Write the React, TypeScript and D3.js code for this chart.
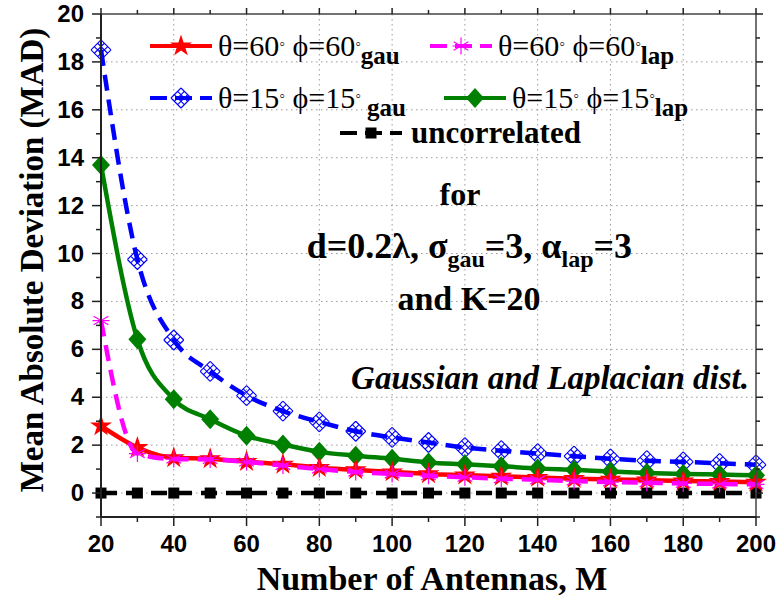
import React from "react";
import * as d3 from "d3";

const M = [20, 30, 40, 50, 60, 70, 80, 90, 100, 110, 120, 130, 140, 150, 160, 170, 180, 190, 200];
const gau60 = [2.8, 1.9, 1.47, 1.43, 1.31, 1.2, 1.06, 0.97, 0.88, 0.8, 0.75, 0.7, 0.65, 0.6, 0.57, 0.54, 0.5, 0.48, 0.45];
const lap60 = [7.2, 1.65, 1.42, 1.4, 1.3, 1.15, 1.0, 0.88, 0.8, 0.72, 0.66, 0.6, 0.55, 0.5, 0.46, 0.43, 0.4, 0.38, 0.36];
const gau15 = [18.5, 9.75, 6.39, 5.08, 4.07, 3.42, 2.97, 2.58, 2.32, 2.11, 1.9, 1.77, 1.65, 1.54, 1.43, 1.35, 1.3, 1.24, 1.18];
const lap15 = [13.7, 6.42, 3.92, 3.08, 2.39, 2.03, 1.72, 1.56, 1.43, 1.28, 1.2, 1.12, 1.03, 0.97, 0.9, 0.84, 0.8, 0.77, 0.74];
const uncorr = [0, 0, 0, 0, 0, 0, 0, 0, 0, 0, 0, 0, 0, 0, 0, 0, 0, 0, 0];

const xTicksMajor = [20, 40, 60, 80, 100, 120, 140, 160, 180, 200];
const xTicksMinor = [30, 50, 70, 90, 110, 130, 150, 170, 190];
const yTicksMajor = [0, 2, 4, 6, 8, 10, 12, 14, 16, 18, 20];
const yTicksMinor = [-1, 1, 3, 5, 7, 9, 11, 13, 15, 17, 19];

const W = 779, H = 602;
const L = 101, R = 756, T = 14, B = 517;

const x = d3.scaleLinear().domain([20, 200]).range([L, R]);
const y = d3.scaleLinear().domain([-1, 20]).range([B, T]);

type Mk = "star" | "ast" | "lattice" | "diamond" | "square";

function marker(kind: Mk, cx: number, cy: number, color: string, key: string | number) {
  if (kind === "star") {
    const p = d3.symbol().type(d3.symbolStar).size(150)();
    return <path key={key} d={p || ""} transform={`translate(${cx},${cy})`} fill={color} />;
  }
  if (kind === "ast") {
    const r = 8.5;
    const segs: string[] = [];
    [90, 30, -30].forEach((a) => {
      const rad = (a * Math.PI) / 180;
      segs.push(`M${cx - r * Math.cos(rad)},${cy - r * Math.sin(rad)}L${cx + r * Math.cos(rad)},${cy + r * Math.sin(rad)}`);
    });
    segs.push(`M${cx - r},${cy}L${cx + r},${cy}`);
    return <path key={key} d={segs.join("")} stroke={color} strokeWidth={1.2} fill="none" />;
  }
  if (kind === "lattice") {
    const hw = 10, hh = 10;
    const top = [cx, cy - hh], right = [cx + hw, cy], bot = [cx, cy + hh], left = [cx - hw, cy];
    const lerp = (a: number[], b: number[], t: number) => [a[0] + (b[0] - a[0]) * t, a[1] + (b[1] - a[1]) * t];
    let d = "";
    [0, 1 / 3, 2 / 3, 1].forEach((t) => {
      const a = lerp(left, top, t), b = lerp(bot, right, t);
      d += `M${a[0]},${a[1]}L${b[0]},${b[1]}`;
      const c = lerp(left, bot, t), e = lerp(top, right, t);
      d += `M${c[0]},${c[1]}L${e[0]},${e[1]}`;
    });
    return <path key={key} d={d} stroke={color} strokeWidth={1.1} fill="none" />;
  }
  if (kind === "diamond") {
    const hw = 9, hh = 10;
    return <path key={key} d={`M${cx},${cy - hh}L${cx + hw},${cy}L${cx},${cy + hh}L${cx - hw},${cy}Z`} fill={color} />;
  }
  const s = 11;
  return <rect key={key} x={cx - s / 2} y={cy - s / 2} width={s} height={s} fill={color} />;
}

const series: { vals: number[]; color: string; dash?: string; mk: Mk }[] = [
  { vals: uncorr, color: "#000000", dash: "16,9", mk: "square" },
  { vals: gau15, color: "#0000ff", dash: "16,9", mk: "lattice" },
  { vals: lap15, color: "#008000", mk: "diamond" },
  { vals: gau60, color: "#ff0000", mk: "star" },
  { vals: lap60, color: "#ff00ff", dash: "16,9", mk: "ast" },
];

const line = d3
  .line<[number, number]>()
  .x((d) => x(d[0]))
  .y((d) => y(d[1]))
  .curve(d3.curveMonotoneX);

const serif = "Liberation Serif";
const sans = "Liberation Sans";

function LegendItem({ lx, ly, color, dash, mk, th, sub }: { lx: number; ly: number; color: string; dash?: string; mk: Mk; th: string; sub: string }) {
  return (
    <g>
      <line x1={lx} x2={lx + 62} y1={ly} y2={ly} stroke={color} strokeWidth={4} strokeDasharray={dash ? "17,8" : undefined} />
      {marker(mk, lx + 31, ly, color, "m")}
      <text x={lx + 68} y={ly + 10} fontFamily={serif} fontSize={30} fill="#000">
        <tspan>θ={th}</tspan>
        <tspan fontSize={16} dy={-7}>◦</tspan>
        <tspan dy={7}> ϕ={th}</tspan>
        <tspan fontSize={16} dy={-7}>◦</tspan>
        <tspan dy={15} fontWeight="bold" fontSize={25}>{sub}</tspan>
      </text>
    </g>
  );
}

export default function App() {
  return (
    <svg width={W} height={H} style={{ position: "absolute", left: 0, top: 0 }}>
      <rect x={0} y={0} width={W} height={H} fill="#fff" />
      <g stroke="#9a9a9a" strokeWidth={1} strokeDasharray="1.5,3.5">
        {xTicksMajor.slice(1, -1).map((v) => (
          <line key={"gx" + v} x1={x(v)} x2={x(v)} y1={T} y2={B} />
        ))}
        {yTicksMajor.slice(0, -1).map((v) => (
          <line key={"gy" + v} x1={L} x2={R} y1={y(v)} y2={y(v)} />
        ))}
      </g>
      {series.map((s, i) => (
        <g key={"s" + i}>
          <path
            d={line(M.map((m, j) => [m, s.vals[j]] as [number, number])) || ""}
            fill="none"
            stroke={s.color}
            strokeWidth={4.5}
            strokeDasharray={s.dash}
            strokeLinejoin="round"
          />
          {M.map((m, j) => marker(s.mk, x(m), y(s.vals[j]), s.color, "k" + i + "-" + j))}
        </g>
      ))}
      <rect x={L} y={T} width={R - L} height={B - T} fill="none" stroke="#444" strokeWidth={1.5} />
      <line x1={L} x2={L} y1={T} y2={B} stroke="#222" strokeWidth={2} />
      <line x1={L} x2={R} y1={B} y2={B} stroke="#222" strokeWidth={2} />
      <g stroke="#222" strokeWidth={1.5}>
        {xTicksMajor.map((v) => (
          <g key={"xt" + v}>
            <line x1={x(v)} x2={x(v)} y1={B} y2={B + 9} />
            <line x1={x(v)} x2={x(v)} y1={T} y2={T - 6} />
          </g>
        ))}
        {xTicksMinor.map((v) => (
          <g key={"xm" + v}>
            <line x1={x(v)} x2={x(v)} y1={B} y2={B + 5} />
            <line x1={x(v)} x2={x(v)} y1={T} y2={T - 4} />
          </g>
        ))}
        {yTicksMajor.map((v) => (
          <g key={"yt" + v}>
            <line x1={L} x2={L - 9} y1={y(v)} y2={y(v)} />
            <line x1={R} x2={R + 7} y1={y(v)} y2={y(v)} />
          </g>
        ))}
        {yTicksMinor.map((v) => (
          <g key={"ym" + v}>
            <line x1={L} x2={L - 5} y1={y(v)} y2={y(v)} />
            <line x1={R} x2={R + 4} y1={y(v)} y2={y(v)} />
          </g>
        ))}
      </g>
      <g fontFamily={sans} fontWeight="bold" fontSize={24} fill="#000">
        {xTicksMajor.map((v) => (
          <text key={"xl" + v} x={x(v)} y={552} textAnchor="middle">
            {v}
          </text>
        ))}
        {yTicksMajor.map((v) => (
          <text key={"yl" + v} x={L - 17} y={y(v) + 8} textAnchor="end">
            {v}
          </text>
        ))}
      </g>
      <text x={432} y={590} textAnchor="middle" fontFamily={serif} fontWeight="bold" fontSize={34}>
        Number of Antennas, M
      </text>
      <text transform={`translate(43,260) rotate(-90)`} textAnchor="middle" fontFamily={serif} fontWeight="bold" fontSize={33}>
        Mean Absolute Deviation (MAD)
      </text>
      <LegendItem lx={150} ly={46} color="#ff0000" mk="star" th="60" sub="gau" />
      <LegendItem lx={430} ly={46} color="#ff00ff" dash="y" mk="ast" th="60" sub="lap" />
      <LegendItem lx={150} ly={98} color="#0000ff" dash="y" mk="lattice" th="15" sub=" gau" />
      <LegendItem lx={444} ly={98} color="#008000" mk="diamond" th="15" sub="lap" />
      <g>
        <line x1={340} x2={402} y1={133} y2={133} stroke="#000" strokeWidth={4} strokeDasharray="17,8" />
        {marker("square", 371, 133, "#000", "um")}
        <text x={411} y={143} fontFamily={serif} fontWeight="bold" fontSize={31}>
          uncorrelated
        </text>
      </g>
      <g fontFamily={serif} fontWeight="bold" fill="#000">
        <text x={460} y={205} textAnchor="middle" fontSize={32}>for</text>
        <text x={632} y={258} textAnchor="end" fontSize={36}>
          <tspan>d=0.2λ, σ</tspan>
          <tspan fontSize={24} dy={9}>gau</tspan>
          <tspan dy={-9}>=3, α</tspan>
          <tspan fontSize={24} dy={9}>lap</tspan>
          <tspan dy={-9}>=3</tspan>
        </text>
        <text x={469} y={310} textAnchor="middle" fontSize={34}>and K=20</text>
        <text x={749} y={389} textAnchor="end" fontSize={33} fontStyle="italic">
          Gaussian and Laplacian dist.
        </text>
      </g>
    </svg>
  );
}
